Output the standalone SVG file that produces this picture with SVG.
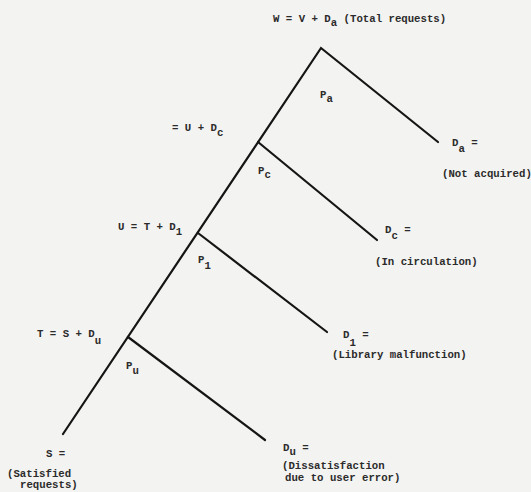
<svg xmlns="http://www.w3.org/2000/svg" width="531" height="492" viewBox="0 0 531 492">
<style>
.t{font-family:"Liberation Mono","DejaVu Sans Mono",monospace;font-size:10.7px;font-weight:bold;fill:#2b2b2b}
.ln{stroke:#151515;stroke-width:2.2;fill:none;stroke-linecap:round;stroke-linejoin:miter}
</style>
<rect width="531" height="492" fill="#f3f3f1"/>
<g id="connectors">
<polyline class="ln" points="63,434 321,48 438,142"/>
<line class="ln" x1="258" y1="142" x2="377" y2="240"/>
<line class="ln" x1="198" y1="233" x2="327" y2="332"/>
<line class="ln" x1="128" y1="337" x2="265" y2="440"/>
</g>
<g id="edge-labels">
<text class="t" x="320" y="98">P<tspan dy="4">a</tspan></text>
<text class="t" x="258" y="174">P<tspan dy="4">c</tspan></text>
<text class="t" x="198" y="263">P<tspan dy="6">1</tspan></text>
<text class="t" x="126" y="369">P<tspan dy="5">u</tspan></text>
</g>
<g id="node-W">
<text class="t" x="273" y="22">W = V + D<tspan dy="4">a</tspan><tspan dy="-4"> (Total requests)</tspan></text>
</g>
<g id="node-V">
<text class="t" x="172" y="131">= U + D<tspan dy="5">c</tspan></text>
</g>
<g id="node-U">
<text class="t" x="118" y="230">U = T + D<tspan dy="5">1</tspan></text>
</g>
<g id="node-T">
<text class="t" x="37" y="337">T = S + D<tspan dy="7">u</tspan></text>
</g>
<g id="node-S">
<text class="t" x="46" y="457">S =</text>
<text class="t" x="7" y="477">(Satisfied</text>
<text class="t" x="20" y="488">requests)</text>
</g>
<g id="node-Da">
<text class="t" x="452" y="146">D<tspan dy="6">a</tspan><tspan dy="-6"> =</tspan></text>
<text class="t" x="442" y="177">(Not acquired)</text>
</g>
<g id="node-Dc">
<text class="t" x="385" y="233">D<tspan dy="6">c</tspan><tspan dy="-6"> =</tspan></text>
<text class="t" x="375" y="265">(In circulation)</text>
</g>
<g id="node-D1">
<text class="t" x="343" y="338">D<tspan dy="8">1</tspan><tspan dy="-8"> =</tspan></text>
<text class="t" x="332" y="358">(Library malfunction)</text>
</g>
<g id="node-Du">
<text class="t" x="283" y="451">D<tspan dy="4">u</tspan><tspan dy="-4"> =</tspan></text>
<text class="t" x="282" y="469">(Dissatisfaction</text>
<text class="t" x="285" y="481">due to user error)</text>
</g>
</svg>
